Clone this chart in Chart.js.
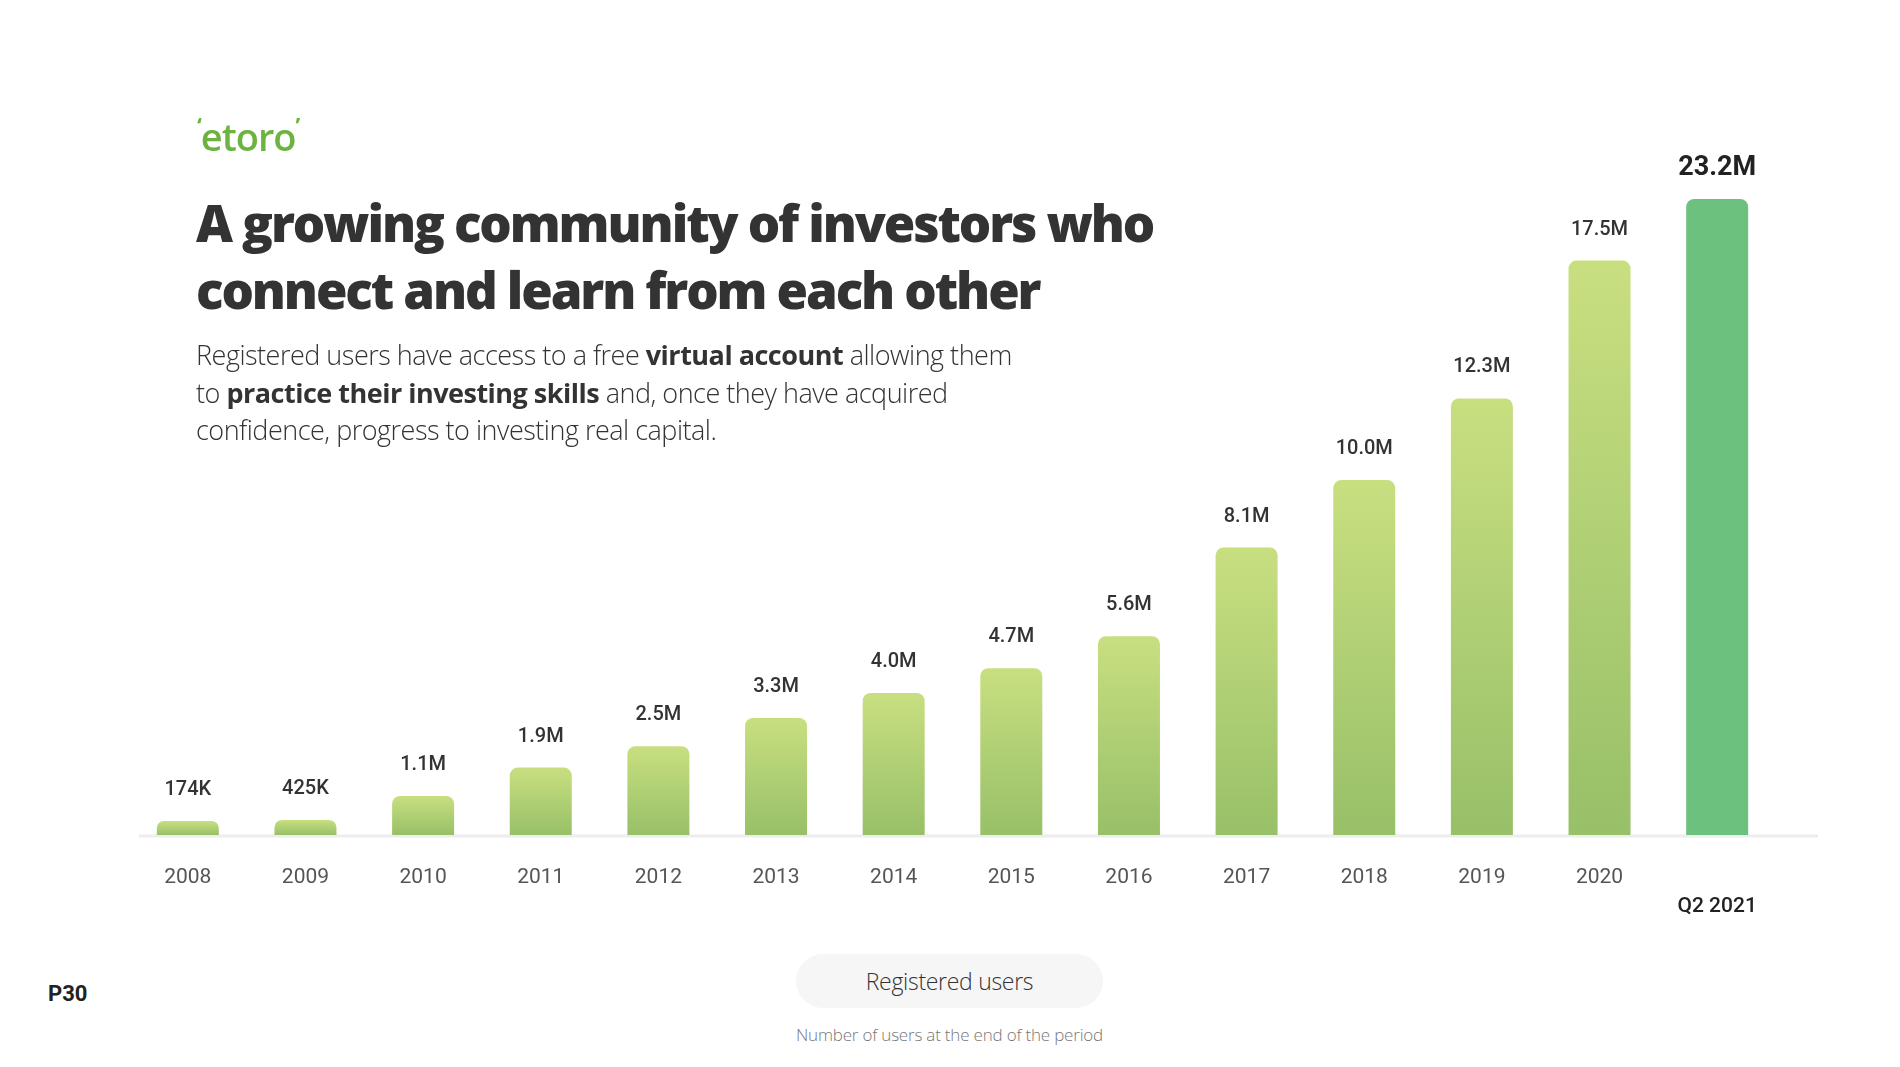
<!DOCTYPE html>
<html>
<head>
<meta charset="utf-8">
<script src="https://cdn.jsdelivr.net/npm/chart.js@4.4.1/dist/chart.umd.min.js"></script>
<style>
  html, body { margin: 0; padding: 0; background: #fff; }
  body { width: 1900px; height: 1067px; position: relative; overflow: hidden; font-family: "Open Sans", sans-serif; }
  #wrap { position: absolute; left: 0; top: 0; width: 1900px; height: 940px; }
  .logo { position: absolute; left: 197px; top: 110px; font-size: 38px; color: #6cb33f; font-weight: 600; letter-spacing: -1px; z-index: 2; }
  .logo sup { font-size: 22px; font-weight: 700; position: relative; top: -4px; }
  h1 { position: absolute; left: 196px; top: 189px; margin: 0; font-size: 51px; line-height: 67px; font-weight: 800; color: #333; letter-spacing: -2.1px; z-index: 2; }
  .desc { position: absolute; left: 196px; top: 336px; margin: 0; font-size: 27px; line-height: 37.6px; font-weight: 300; color: #333; letter-spacing: -0.5px; z-index: 2; }
  .desc b { font-weight: 700; }
  .page { position: absolute; left: 48px; top: 981px; font: bold 22px Roboto, sans-serif; color: #222; }
  .pill { position: absolute; left: 796px; top: 954px; width: 307px; height: 54px; border-radius: 27px; background: #f6f6f6; text-align: center; line-height: 54px; font-size: 23px; font-weight: 300; color: #333; letter-spacing: -0.3px; }
  .note { position: absolute; left: 776px; top: 1023px; width: 347px; text-align: center; font-size: 17px; font-weight: 300; color: #777; letter-spacing: -0.2px; }
</style>
</head>
<body>
<div class="logo"><sup>‘</sup>etoro<sup>’</sup></div>
<h1>A growing community of investors who<br>connect and learn from each other</h1>
<p class="desc">Registered users have access to a free <b>virtual account</b> allowing them<br>to <b>practice their investing skills</b> and, once they have acquired<br>confidence, progress to investing real capital.</p>
<div id="wrap"><canvas id="usersChart"></canvas></div>
<div class="page">P30</div>
<div class="pill">Registered users</div>
<div class="note">Number of users at the end of the period</div>

<script>
const categories = ['2008', '2009', '2010', '2011', '2012', '2013', '2014', '2015', '2016', '2017', '2018', '2019', '2020', 'Q2 2021'];
// registered users, millions
const users = [0.174, 0.425, 1.1, 1.9, 2.5, 3.3, 4.0, 4.7, 5.6, 8.1, 10.0, 12.3, 17.5, 23.2];
const valueLabels = ['174K', '425K', '1.1M', '1.9M', '2.5M', '3.3M', '4.0M', '4.7M', '5.6M', '8.1M', '10.0M', '12.3M', '17.5M', '23.2M'];

// the slide squeezes the tallest bars, so the y scale does the same above a knee
const KNEE = 12.3;
function squash(v) {
    return v <= KNEE ? v : KNEE + Math.sqrt(2.9 * (v - KNEE));
}
class SquashedScale extends Chart.LinearScale {
    static id = 'squashed';
    static defaults = Chart.LinearScale.defaults;
    getPixelForValue(v) {
        return super.getPixelForValue(squash(v));
    }
}
Chart.register(SquashedScale);

const last = users.length - 1;

const baselinePlugin = {
    id: 'baseline',
    beforeDatasetsDraw(chart) {
        const { ctx, chartArea } = chart;
        const y = chart.scales.y.getPixelForValue(0) + 1;
        ctx.save();
        ctx.strokeStyle = '#ededed';
        ctx.lineWidth = 3;
        ctx.beginPath();
        ctx.moveTo(chartArea.left + 10, y);
        ctx.lineTo(chartArea.right + 42, y);
        ctx.stroke();
        ctx.restore();
    },
};

const valueLabelPlugin = {
    id: 'valueLabels',
    afterDatasetsDraw(chart) {
        const ctx = chart.ctx;
        const meta = chart.getDatasetMeta(0);
        ctx.save();
        ctx.textAlign = 'center';
        ctx.textBaseline = 'middle';
        meta.data.forEach((bar, i) => {
            const isLast = i === last;
            ctx.font = isLast ? 'bold 27px Roboto' : '500 20px Roboto';
            ctx.fillStyle = isLast ? '#222' : '#333';
            ctx.fillText(valueLabels[i], bar.x, bar.y - 31);
        });
        ctx.restore();
    },
};

function barColor(c) {
    const chart = c.chart;
    if (c.dataIndex === last) return '#6cc17f';
    if (c.type !== 'data' || !chart.chartArea) return '#b5d574';
    const y = chart.scales.y;
    const bottom = y.getPixelForValue(0);
    const top = Math.min(y.getPixelForValue(c.parsed.y), bottom - 14);
    const g = chart.ctx.createLinearGradient(0, top, 0, bottom);
    g.addColorStop(0, '#c8df80');
    g.addColorStop(1, '#98c068');
    return g;
}

new Chart(document.getElementById('usersChart'), {
    type: 'bar',
    data: {
        labels: categories,
        datasets: [
            {
                label: 'Registered users',
                data: users,
                backgroundColor: barColor,
                borderRadius: { topLeft: 8, topRight: 8 },
                borderSkipped: 'start',
                barPercentage: 0.527,
                categoryPercentage: 1,
                minBarLength: 14,
            },
        ],
    },
    options: {
        responsive: true,
        maintainAspectRatio: false,
        animation: false,
        layout: {
            padding: { left: 129, right: 124, top: 150, bottom: 0 },
        },
        plugins: {
            legend: { display: false },
            tooltip: { enabled: false },
        },
        scales: {
            x: {
                grid: { display: false, drawTicks: false },
                border: { display: false },
                afterFit: (s) => { s.height = 105; },
                ticks: {
                    padding: 28,
                    callback: (v, i) => (i === last ? ['', categories[i]] : categories[i]),
                    color: (c) => (c.index === last ? '#222' : '#555'),
                    font: (c) => (c.index === last
                        ? { family: 'Roboto', size: 21, weight: '500', lineHeight: 1.4 }
                        : { family: 'Roboto', size: 21, weight: '400', lineHeight: 1.4 }),
                },
            },
            y: {
                type: 'squashed',
                display: false,
                min: 0,
                max: 19.3,
            },
        },
    },
    plugins: [baselinePlugin, valueLabelPlugin],
});
</script>
</body>
</html>
